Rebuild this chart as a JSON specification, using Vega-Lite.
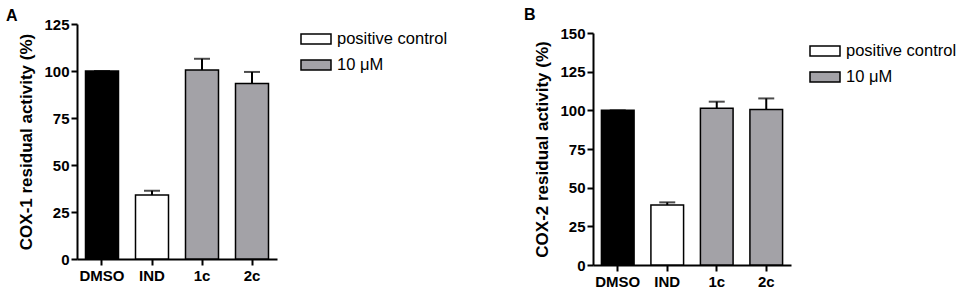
{
  "$schema": "https://vega.github.io/schema/vega-lite/v6.json",
  "padding": {"left": 5, "top": 7, "right": 0, "bottom": 0},
  "config": {
    "font": "Liberation Sans",
    "view": {"stroke": null},
    "axis": {"domainColor": "black", "domainWidth": 2, "tickColor": "black", "tickWidth": 2, "tickSize": 6, "labelColor": "black", "labelFont": "Liberation Sans", "labelFontWeight": "bold", "labelFontSize": 15, "labelOverlap": false, "titleColor": "black", "titleFont": "Liberation Sans", "titleFontWeight": "bold", "titleFontSize": 17, "grid": false},
    "title": {"font": "Liberation Sans", "fontSize": 16, "fontWeight": "bold", "color": "black", "anchor": "start", "frame": "bounds"}
  },
  "datasets": {
    "a": [
      {"cond": "DMSO", "value": 100, "upper": 100, "group": "DMSO"},
      {"cond": "IND", "value": 34, "upper": 36.3, "group": "positive control"},
      {"cond": "1c", "value": 100.5, "upper": 106.5, "group": "10 μM"},
      {"cond": "2c", "value": 93.4, "upper": 99.5, "group": "10 μM"}
    ],
    "b": [
      {"cond": "DMSO", "value": 100, "upper": 100, "group": "DMSO"},
      {"cond": "IND", "value": 38.8, "upper": 40.5, "group": "positive control"},
      {"cond": "1c", "value": 101.3, "upper": 105.6, "group": "10 μM"},
      {"cond": "2c", "value": 100.6, "upper": 107.7, "group": "10 μM"}
    ]
  },
  "resolve": {"scale": {"color": "independent"}, "legend": {"color": "independent"}},
  "align": "none",
  "spacing": 75,
  "hconcat": [
    {
      "title": {"text": "A", "offset": -7, "dx": -12},
      "width": 200,
      "height": 235,
      "data": {"name": "a"},
      "encoding": {
        "x": {"field": "cond", "type": "nominal", "sort": ["DMSO", "IND", "1c", "2c"], "scale": {"paddingInner": 0.34, "paddingOuter": 0.17}, "axis": {"title": null, "labelAngle": 0, "labelPadding": 3}}
      },
      "layer": [
        {
          "mark": {"type": "bar", "stroke": "black", "strokeWidth": 1.5},
          "encoding": {
            "y": {"field": "value", "type": "quantitative", "scale": {"domain": [0, 125], "nice": false}, "axis": {"values": [0, 25, 50, 75, 100, 125], "labelOverlap": false, "title": "COX-1 residual activity (%)", "titlePadding": 8}},
            "color": {"field": "group", "type": "nominal", "scale": {"domain": ["DMSO", "positive control", "10 μM"], "range": ["#000000", "#ffffff", "#a3a2a7"]},
              "legend": {"values": ["positive control", "10 μM"], "title": null, "orient": "none", "legendX": 228, "legendY": 4, "symbolType": "M-1.5,-0.5H1.5V0.5H-1.5Z", "symbolSize": 400, "symbolStrokeColor": "black", "symbolStrokeWidth": 1.5, "symbolOpacity": 1, "labelFontSize": 16.5, "labelOffset": 10, "labelFont": "Liberation Sans", "labelColor": "black", "rowPadding": 6}}
          }
        },
        {
          "mark": {"type": "rule", "color": "black", "strokeWidth": 2},
          "encoding": {
            "y": {"field": "upper", "type": "quantitative", "scale": {"domain": [0, 125], "nice": false}, "axis": {"values": [0, 25, 50, 75, 100, 125], "labelOverlap": false, "title": "COX-1 residual activity (%)", "titlePadding": 8}},
            "y2": {"field": "value"}
          }
        },
        {
          "mark": {"type": "tick", "color": "black", "thickness": 2, "size": 16},
          "encoding": {
            "y": {"field": "upper", "type": "quantitative", "scale": {"domain": [0, 125], "nice": false}, "axis": {"values": [0, 25, 50, 75, 100, 125], "labelOverlap": false, "title": "COX-1 residual activity (%)", "titlePadding": 8}}
          }
        }
      ]
    },
    {
      "title": {"text": "B", "offset": 1, "dx": -10},
      "width": 198,
      "height": 241,
      "data": {"name": "b"},
      "encoding": {
        "x": {"field": "cond", "type": "nominal", "sort": ["DMSO", "IND", "1c", "2c"], "scale": {"paddingInner": 0.34, "paddingOuter": 0.17}, "axis": {"title": null, "labelAngle": 0, "labelPadding": 3}}
      },
      "layer": [
        {
          "mark": {"type": "bar", "stroke": "black", "strokeWidth": 1.5},
          "encoding": {
            "y": {"field": "value", "type": "quantitative", "scale": {"domain": [0, 150], "nice": false, "range": [241, 9]}, "axis": {"values": [0, 25, 50, 75, 100, 125, 150], "labelOverlap": false, "title": "COX-2 residual activity (%)", "titlePadding": 8}},
            "color": {"field": "group", "type": "nominal", "scale": {"domain": ["DMSO", "positive control", "10 μM"], "range": ["#000000", "#ffffff", "#a3a2a7"]},
              "legend": {"values": ["positive control", "10 μM"], "title": null, "orient": "none", "legendX": 221, "legendY": 16, "symbolType": "M-1.5,-0.5H1.5V0.5H-1.5Z", "symbolSize": 400, "symbolStrokeColor": "black", "symbolStrokeWidth": 1.5, "symbolOpacity": 1, "labelFontSize": 16.5, "labelOffset": 10, "labelFont": "Liberation Sans", "labelColor": "black", "rowPadding": 6}}
          }
        },
        {
          "mark": {"type": "rule", "color": "black", "strokeWidth": 2},
          "encoding": {
            "y": {"field": "upper", "type": "quantitative", "scale": {"domain": [0, 150], "nice": false, "range": [241, 9]}, "axis": {"values": [0, 25, 50, 75, 100, 125, 150], "labelOverlap": false, "title": "COX-2 residual activity (%)", "titlePadding": 8}},
            "y2": {"field": "value"}
          }
        },
        {
          "mark": {"type": "tick", "color": "black", "thickness": 2, "size": 16},
          "encoding": {
            "y": {"field": "upper", "type": "quantitative", "scale": {"domain": [0, 150], "nice": false, "range": [241, 9]}, "axis": {"values": [0, 25, 50, 75, 100, 125, 150], "labelOverlap": false, "title": "COX-2 residual activity (%)", "titlePadding": 8}}
          }
        }
      ]
    }
  ]
}
